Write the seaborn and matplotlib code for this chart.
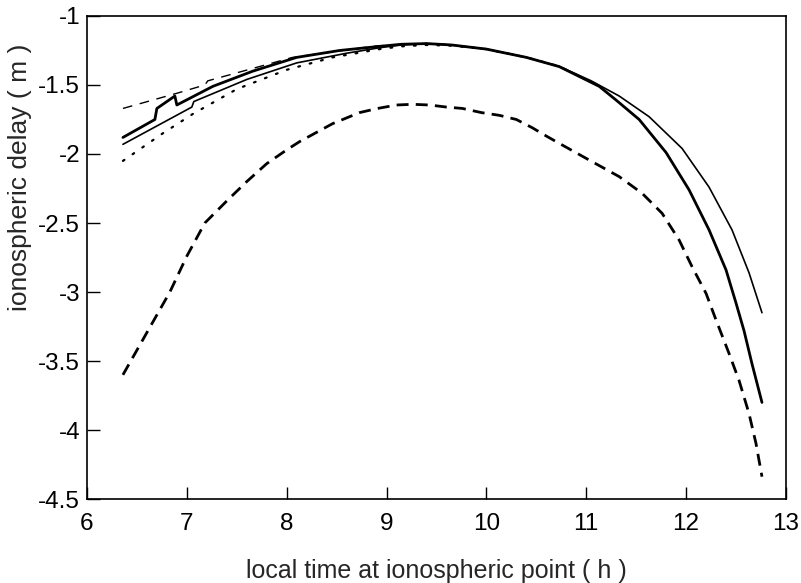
import seaborn as sns
import matplotlib.pyplot as plt

# thick solid (with small jumps at the start)
x_thick = [6.36, 6.68, 6.70, 6.88, 6.90, 7.26, 7.66, 8.1, 8.53, 8.93, 9.15, 9.4, 9.65, 10.0, 10.4,
           10.73, 11.13, 11.3, 11.53, 11.8, 12.03, 12.23, 12.4, 12.5, 12.58, 12.66, 12.76]
y_thick = [-1.88, -1.75, -1.67, -1.58, -1.645, -1.51, -1.40, -1.30, -1.25, -1.22, -1.205, -1.20,
           -1.21, -1.24, -1.30, -1.367, -1.51, -1.61, -1.75, -1.99, -2.26, -2.55, -2.84, -3.08,
           -3.28, -3.52, -3.80]

# thin solid
x_thin = [6.36, 7.05, 7.07, 7.6, 8.1, 8.6, 8.93, 9.15, 9.4, 9.65, 10.0, 10.4, 10.73, 11.05, 11.33,
          11.63, 11.96, 12.23, 12.46, 12.63, 12.76]
y_thin = [-1.93, -1.66, -1.62, -1.46, -1.34, -1.27, -1.23, -1.21, -1.20, -1.21, -1.24, -1.30, -1.365,
          -1.47, -1.58, -1.73, -1.96, -2.24, -2.55, -2.86, -3.15]

# thin dashed (upper)
x_dash_up = [6.36, 6.9, 7.18, 7.21, 7.66, 8.06, 8.46, 8.86, 9.15, 9.4, 9.65, 10.0, 10.4, 10.73, 11.0]
y_dash_up = [-1.67, -1.56, -1.50, -1.47, -1.38, -1.30, -1.26, -1.22, -1.205, -1.20, -1.21, -1.24,
             -1.30, -1.367, -1.46]

# dotted
x_dot = [6.36, 6.76, 7.06, 7.5, 8.0, 8.46, 8.93, 9.15, 9.4, 9.65, 10.0, 10.4, 10.73, 11.0]
y_dot = [-2.05, -1.85, -1.71, -1.53, -1.39, -1.30, -1.24, -1.22, -1.21, -1.215, -1.24, -1.30, -1.365,
         -1.46]

# thick dashed (lower)
x_dash_low = [6.36, 6.83, 7.0, 7.18, 7.4, 7.6, 7.8, 8.0, 8.13, 8.46, 8.73, 8.91, 9.1, 9.26, 9.43,
              9.6, 9.76, 9.95, 10.13, 10.3, 10.46, 10.6, 10.73, 11.03, 11.33, 11.56, 11.76, 11.93,
              12.06, 12.20, 12.30, 12.43, 12.53, 12.63, 12.70, 12.76]
y_dash_low = [-3.60, -3.00, -2.74, -2.50, -2.34, -2.20, -2.07, -1.97, -1.91, -1.78, -1.70, -1.67,
              -1.645, -1.64, -1.645, -1.66, -1.67, -1.70, -1.72, -1.75, -1.81, -1.87, -1.923, -2.044,
              -2.164, -2.285, -2.43, -2.623, -2.817, -3.01, -3.203, -3.445, -3.64, -3.88, -4.097,
              -4.338]

sns.set_style("ticks")
plt.rcParams['font.family'] = ['Liberation Sans', 'DejaVu Sans']

fig = plt.figure(figsize=(8.01, 5.83), dpi=100)
ax = fig.add_axes([0.1086, 0.144, 0.8726, 0.8286])

sns.lineplot(x=x_dot, y=y_dot, ax=ax, color="black", lw=1.6, sort=False)
ax.lines[-1].set_dashes((0.8, 4.5))
ax.lines[-1].set_dash_capstyle("round")
sns.lineplot(x=x_dash_up, y=y_dash_up, ax=ax, color="black", lw=1.0, sort=False)
ax.lines[-1].set_dashes((7, 5.5))
sns.lineplot(x=x_thin, y=y_thin, ax=ax, color="black", lw=1.2, sort=False)
sns.lineplot(x=x_thick, y=y_thick, ax=ax, color="black", lw=2.0, sort=False)
sns.lineplot(x=x_dash_low, y=y_dash_low, ax=ax, color="black", lw=2.0, sort=False)
ax.lines[-1].set_dashes((4.3, 2.6))

ax.set_xlim(6, 13)
ax.set_ylim(-4.5, -1)
ax.set_xticks(range(6, 14))
ax.set_yticks([-1, -1.5, -2, -2.5, -3, -3.5, -4, -4.5])
ax.set_yticklabels(["-1", "-1.5", "-2", "-2.5", "-3", "-3.5", "-4", "-4.5"])
ax.tick_params(direction="in", length=9, width=1, labelsize=17.5, colors="black")
ax.tick_params(axis="x", pad=10)
ax.tick_params(axis="y", pad=5)
for s in ax.spines.values():
    s.set_linewidth(1.2)
    s.set_color("black")
    s.set_visible(True)

ax.set_xlabel("local time at ionospheric point ( h )", fontsize=18, labelpad=17)
ax.set_ylabel("ionospheric delay ( m )", fontsize=19)
ax.yaxis.set_label_coords(-0.078, 0.665)

fig.savefig("out.png", dpi=100)
